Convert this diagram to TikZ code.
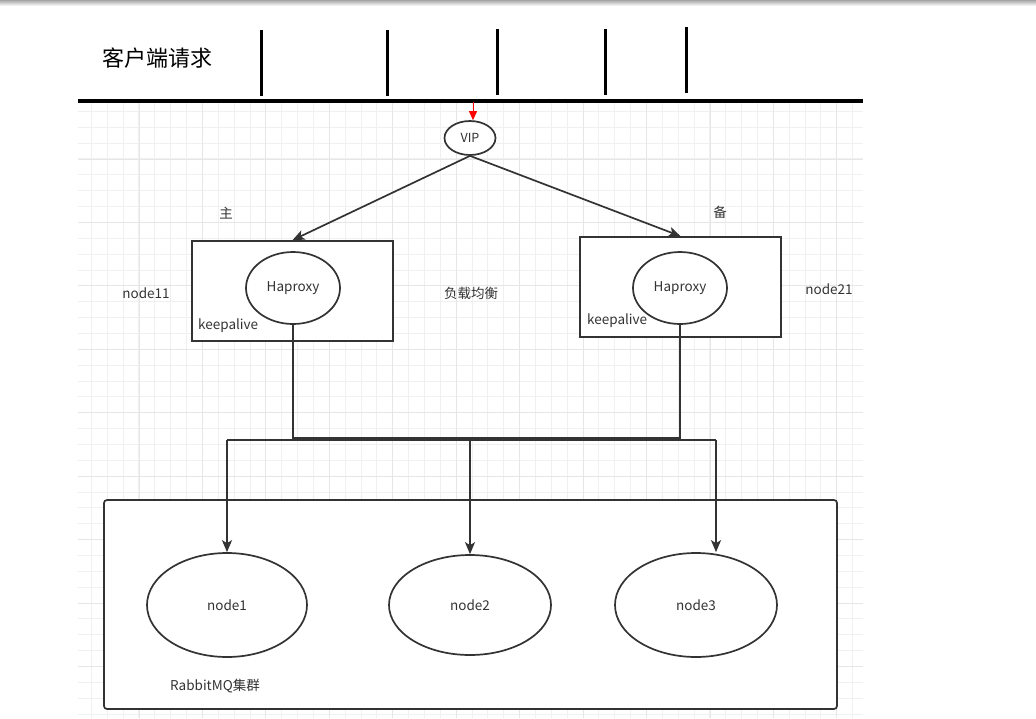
\documentclass[tikz,border=0pt]{standalone}
\usepackage{fontspec}
\setmainfont{Noto Sans CJK SC}
\usetikzlibrary{arrows.meta,positioning,shapes.geometric}
\definecolor{lineGray}{HTML}{333333}
\definecolor{gridMinor}{HTML}{F0F0F0}
\definecolor{gridMajor}{HTML}{E6E6E6}

\begin{document}
\begin{tikzpicture}[x=1pt, y=-1pt, font=\fontsize{13.5}{15}\selectfont, text=lineGray,
  wire/.style={draw=lineGray, line width=1.7pt},
  arr/.style={wire, -{Stealth[length=12pt, width=10pt, inset=3pt]}},
  oval/.style={ellipse, draw=lineGray, fill=white, line width=1.7pt, inner sep=0pt},
  hbox/.style={rectangle, draw=lineGray, fill=white, line width=1.7pt, minimum width=201pt, minimum height=100pt},
  lbl/.style={inner sep=0pt}]
\useasboundingbox (0,0) rectangle (1036,718);
% shadow along the top edge
\shade[top color=black!35, bottom color=white] (0,0) rectangle (1036,6);
% background grid
\foreach \i in {0,...,48}
  \draw[gridMinor, line width=1pt] ({91.4+15.86*\i},102) -- ({91.4+15.86*\i},718);
\foreach \j in {0,...,38}
  \draw[gridMinor, line width=1pt] (78,{111.4+15.86*\j}) -- (863,{111.4+15.86*\j});
\foreach \i in {0,...,11}
  \draw[gridMajor, line width=1pt] ({139+63.45*\i},102) -- ({139+63.45*\i},718);
\foreach \j in {0,...,8}
  \draw[gridMajor, line width=1pt] (78,{159+63.45*\j}) -- (863,{159+63.45*\j});

% client requests
\node[lbl, font=\fontsize{22}{24}\selectfont, text=black] (title) at (157,58) {客户端请求};
\foreach \x/\a/\b in {261/30/96, 387/30/96, 497/29/95, 605/29/95, 686/27/93}
  \draw[black, line width=3pt] (\x,\a) -- (\x,\b);
\draw[black, line width=4pt] (78,101) -- (863,101);

% VIP
\node[oval, minimum width=51pt, minimum height=34pt, font=\fontsize{12.5}{14}\selectfont] (vip) at (470,138) {VIP};
\coordinate (req) at (473,102);
\draw[red, line width=1pt, -{Triangle[length=9pt, width=8pt]}] (req) -- (req |- vip.north);

% haproxy + keepalived pair
\node[hbox] (lbox) at (292.5,291) {};
\node[hbox] (rbox) at (680.5,287) {};
\node[oval, minimum width=94pt, minimum height=72pt] (lha) at (293,288) {Haproxy};
\node[oval, minimum width=94pt, minimum height=72pt] (rha) at (680,288) {Haproxy};
\node[lbl, anchor=west] (lkeep) at (198,326) {keepalive};
\node[lbl, anchor=west] (rkeep) at (587,321) {keepalive};
\node[lbl] (master) at (226,213) {主};
\node[lbl] (backup) at (720,212) {备};
\node[lbl] (node11) at (146,293) {node11};
\node[lbl] (node21) at (829,289) {node21};
\node[lbl] (lb) at (471,293) {负载均衡};
\draw[arr] (vip.south) -- (lbox.north);
\draw[arr] (vip.south) -- (rbox.north);

% RabbitMQ cluster
\node[draw=lineGray, fill=white, line width=1.7pt, rounded corners=3pt,
  minimum width=733pt, minimum height=209pt] (cluster) at (470.5,604.5) {};
\node[oval, minimum width=160pt, minimum height=104pt] (n1) at (227,605) {node1};
\node[oval, minimum width=162pt, minimum height=100pt] (n2) at (470,605) {node2};
\node[oval, minimum width=162pt, minimum height=104pt] (n3) at (696,605) {node3};
\node[lbl] (mq) at (215,686) {RabbitMQ集群};

% links down to the cluster
\draw[wire] (lha.south) -- ++(0,113) -| (rha.south);
\coordinate (b1) at (227,440);
\coordinate (b3) at (716,440);
\draw[wire] (b1) -- (b3);
\draw[arr] (b1) -- (n1.north);
\draw[arr] (n2.north |- b1) -- (n2.north);
\draw[arr] (b3) -- (n3.north -| b3);
\end{tikzpicture}
\end{document}
